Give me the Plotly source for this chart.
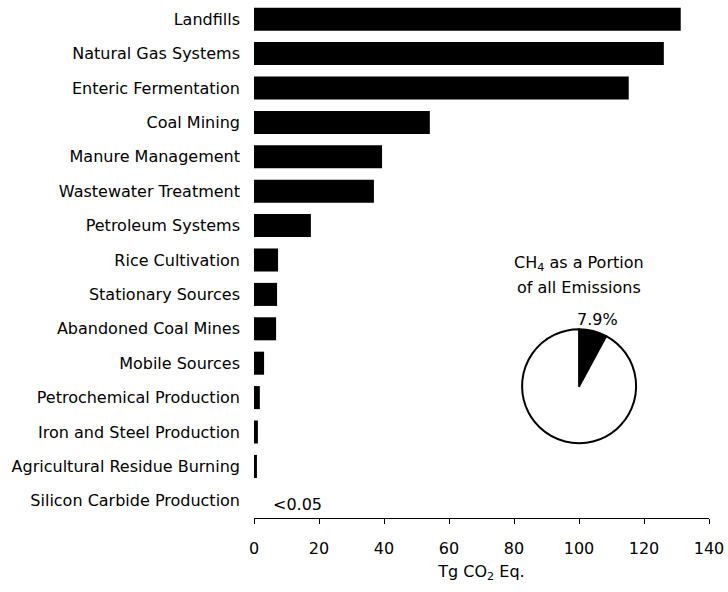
import plotly.graph_objects as go

# CH4 emission sources (Tg CO2 Eq.)
sources = [
    'Landfills', 'Natural Gas Systems', 'Enteric Fermentation', 'Coal Mining',
    'Manure Management', 'Wastewater Treatment', 'Petroleum Systems',
    'Rice Cultivation', 'Stationary Sources', 'Abandoned Coal Mines',
    'Mobile Sources', 'Petrochemical Production', 'Iron and Steel Production',
    'Agricultural Residue Burning', 'Silicon Carbide Production'
]
emissions = [131.3, 126.1, 115.3, 54.1, 39.4, 36.9, 17.5,
             7.4, 7.1, 6.8, 3.1, 1.8, 1.2, 0.9, 0.0]

# share of CH4 among all emissions
pie_labels = ['CH4', 'Other']
pie_values = [7.9, 92.1]

FONT = 'DejaVu Sans'

fig = go.Figure()

fig.add_trace(go.Bar(
    x=emissions,
    y=sources,
    orientation='h',
    marker=dict(color='black', line=dict(width=0)),
    hoverinfo='x+y'
))

# domain is relative to the plot area
fig.add_trace(go.Pie(
    labels=pie_labels,
    values=pie_values,
    sort=False,
    direction='clockwise',
    rotation=0,
    marker=dict(colors=['black', 'white'], line=dict(color='black', width=2)),
    textinfo='none',
    showlegend=False,
    domain=dict(x=[0.589, 0.840], y=[0.145, 0.366])
))

fig.add_annotation(
    x=5.2, y='Silicon Carbide Production', xref='x', yref='y',
    text='<0.05', showarrow=False, xanchor='left', yshift=-4,
    font=dict(size=16)
)
# pie title, two lines spaced like the original
fig.add_annotation(
    x=0.714, y=0.494, xref='paper', yref='paper',
    text='CH<sub>4</sub> as a Portion',
    showarrow=False, xanchor='center', yanchor='middle',
    font=dict(size=16)
)
fig.add_annotation(
    x=0.714, y=0.446, xref='paper', yref='paper',
    text='of all Emissions',
    showarrow=False, xanchor='center', yanchor='middle',
    font=dict(size=16)
)
fig.add_annotation(
    x=0.754, y=0.384, xref='paper', yref='paper',
    text=f'{pie_values[0]}%', showarrow=False, xanchor='center', yanchor='middle',
    font=dict(size=16)
)

fig.update_layout(
    width=728, height=592,
    margin=dict(t=2, b=74, l=254, r=19),
    paper_bgcolor='white',
    plot_bgcolor='white',
    font=dict(family=FONT, size=16, color='black'),
    showlegend=False,
    bargap=0.33,
    xaxis=dict(
        range=[0, 140], dtick=20, showgrid=False, zeroline=False,
        showline=True, linecolor='black', linewidth=1,
        ticks='outside', ticklen=5, tickcolor='black', ticklabelstandoff=11,
        title=dict(text='Tg CO<sub>2</sub> Eq.', standoff=8, font=dict(size=16))
    ),
    yaxis=dict(
        autorange='reversed', showgrid=False, zeroline=False, showline=False,
        ticks='', ticklabelstandoff=13
    )
)

# drop the default page margin so the figure sits at the window's corner
fig.write_html('out.html', config={'displayModeBar': False},
               post_script="document.body.style.margin='0';")
